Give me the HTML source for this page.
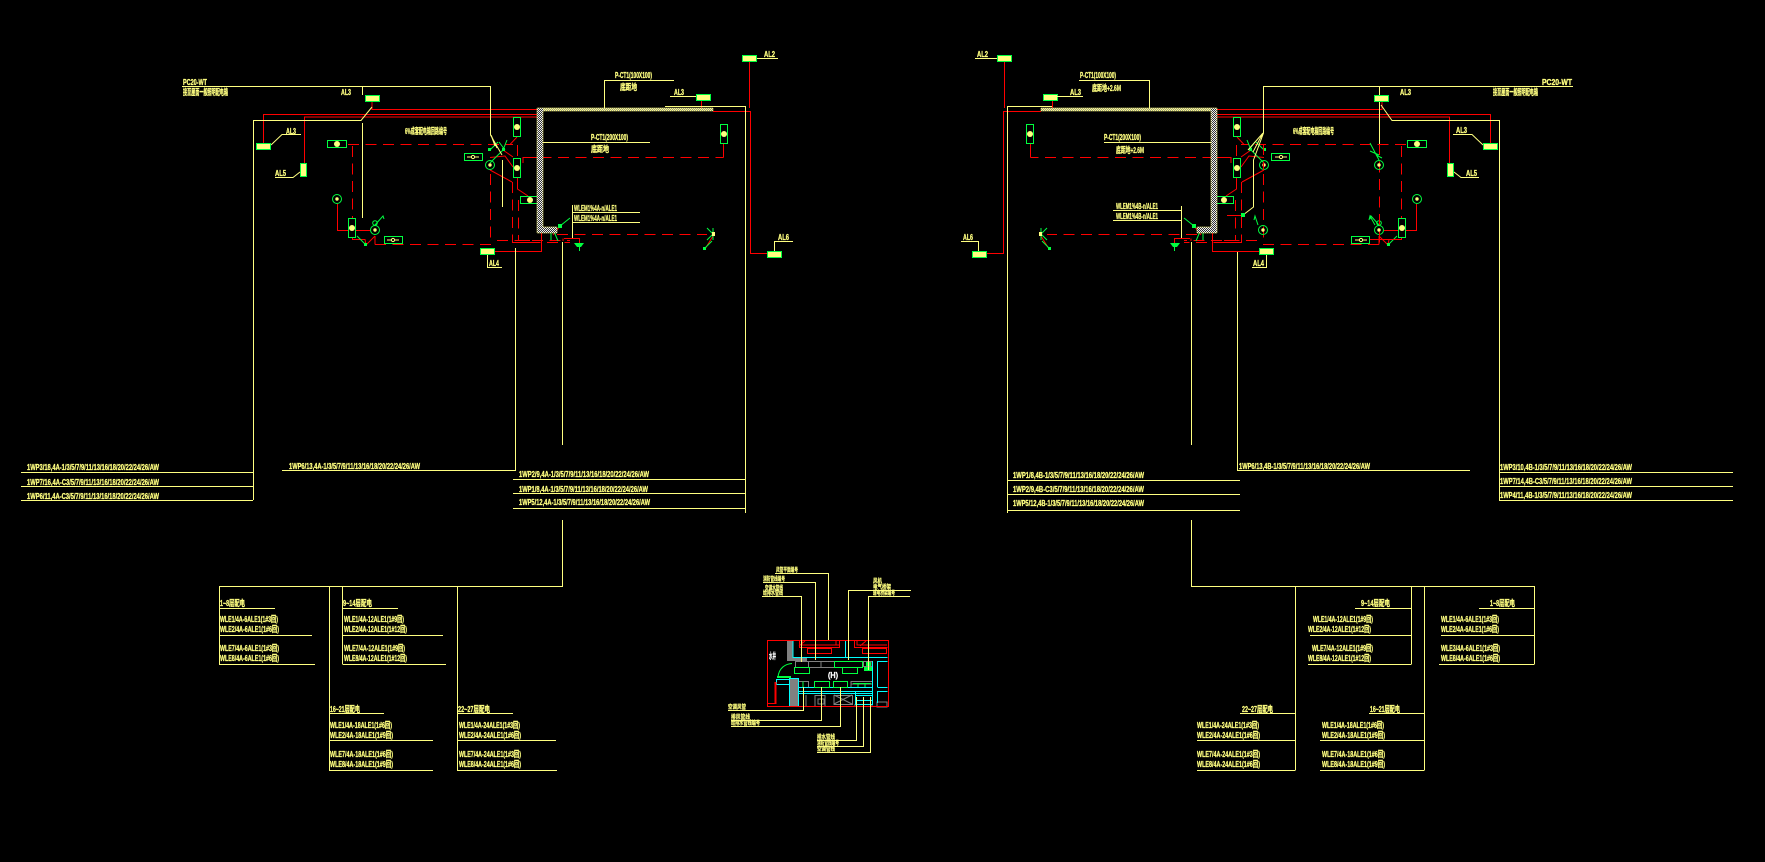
<!DOCTYPE html>
<html><head><meta charset="utf-8"><style>
html,body{margin:0;padding:0;background:#000;overflow:hidden}
svg{display:block}
text{font-family:"Liberation Sans","Noto Sans CJK SC",sans-serif;font-size:8.5px;font-weight:700;fill:#ffff80;stroke:#ffff80;stroke-width:.3px}
text.s{font-size:6px;stroke-width:.2px}
.y{stroke:#ffff80;fill:none}
.r{stroke:#f00;fill:none}
.d{stroke:#f00;fill:none;stroke-dasharray:11 6.5}
.g{stroke:#00ff40;fill:none}
.c{stroke:#0ff;fill:none}
.a{stroke:#808080;fill:none}
</style></head><body>
<svg xmlns="http://www.w3.org/2000/svg" width="1765" height="862" viewBox="0 0 1765 862">
<defs>
<pattern id="chk" width="2" height="2" patternUnits="userSpaceOnUse"><rect width="2" height="2" fill="#333"/><rect width="1" height="1" fill="#eee"/><rect x="1" y="1" width="1" height="1" fill="#eee"/></pattern>
<pattern id="chy" width="2" height="2" patternUnits="userSpaceOnUse"><rect width="2" height="2" fill="#998"/><rect width="1" height="1" fill="#ffff80"/><rect x="1" y="1" width="1" height="1" fill="#ffff80"/></pattern>
<g id="fv"><rect x=".5" y=".5" width="7" height="19" fill="#000" stroke="#00ff40"/><circle cx="4" cy="10" r="3" fill="#ffff80"/></g>
<g id="fh"><rect x=".5" y=".5" width="19" height="7" fill="#000" stroke="#00ff40"/><circle cx="10" cy="4" r="3" fill="#ffff80"/></g>
<rect id="bx" x=".5" y=".5" width="14" height="6" fill="#ffff80" stroke="#00ff40"/>
<g id="ci"><circle r="4.5" fill="none" stroke="#00ff40"/><circle r="1.7" fill="#ffff80"/></g>
<g id="sw"><rect x=".5" y=".5" width="18" height="7" fill="#000" stroke="#00ff40"/><path d="M3 4H15" stroke="#ffff80"/><circle cx="9" cy="4" r="1.6" fill="#000" stroke="#ffff80"/></g>
<g id="plan">
<!-- red feeders -->
<path class="r" d="M372 102V109.500H537M263.500 143V114.500H537M304.500 163V117H537M749.500 62V108M713 111.500H750.500V253.500H767M701.500 101V108M495 251.500H541.500V233"/>
<!-- dashed -->
<path class="d" d="M348 144.500H513M352.500 146V218M375 244.500H490.500V170M523 157.500H723.500M557 234.500H707M512.500 182V242M518.500 200V240M517.500 145V158M497 240.500H570"/>
<path class="d" d="M512 242.500H570" />
<path class="r" d="M723.500 143V157.500M337.500 204V230.500H348M356 230.500H370M352.500 238V239.500H365L366 245M375 236V244.500M375 236L366 245M490 170L512 182M517.500 177V189L528 196M490 157.500L505 156L513 167M503 150L513 157M505 144.500H510L517 137M523 163V157.500H537M564 238.500H579.500V243M563 238.500V241M553 235L560 226M705 249L713 236M512.500 242.500H537M518 240.500H530"/>
<!-- green -->
<path class="g" d="M490 150L498 142M503 150L507 140M490 163L503 150M357 236L366 245M375 225L383 216L384 219M560 226L570 218M553 229L558 241M551 229V240M713 228V240M707 228L713 234M707 240L713 234M704 249L712 241M505 150L499 142"/>
<circle cx="375" cy="223" r="2.3" class="g"/>
<rect x="364" y="243" width="3" height="3" fill="#00ff40"/><rect x="488" y="148" width="3" height="3" fill="#00ff40"/><rect x="502" y="148" width="3" height="3" fill="#00ff40"/>
<rect x="558" y="224" width="4" height="4" fill="#00ff40"/><rect x="703" y="247" width="3" height="3" fill="#00ff40"/><rect x="712" y="232" width="3" height="4" fill="#ffff80"/>
<path d="M574 243H584L581 247H577Z" fill="#00ff40"/><path class="g" d="M579.500 247V251"/>
<!-- fixtures -->
<use href="#fv" x="513" y="117"/><use href="#fv" x="513" y="158"/><use href="#fv" x="720" y="124"/><use href="#fv" x="348" y="218"/>
<use href="#fh" x="327" y="140"/><use href="#fh" x="520" y="196"/>
<use href="#ci" x="490" y="165"/><use href="#ci" x="375" y="230"/><use href="#ci" x="337" y="199"/>
<use href="#sw" x="384" y="236"/><use href="#sw" x="464" y="153"/>
<!-- boxes -->
<use href="#bx" x="742" y="55"/><use href="#bx" x="696" y="94"/><use href="#bx" x="365" y="95"/><use href="#bx" x="256" y="143"/>
<use href="#bx" x="480" y="248"/><use href="#bx" x="767" y="251"/>
<rect x="300.500" y="163.500" width="6" height="13" fill="#ffff80" stroke="#00ff40"/>
<!-- wall -->
<path d="M537 108H713V111H543V227H557V233H537Z" fill="url(#chk)" stroke="#ffff80" stroke-width=".5"/>
<rect x="543" y="108" width="170" height="3" fill="url(#chy)"/>
</g>
</defs>
<rect width="1765" height="862" fill="#000"/>

<use href="#plan"/>
<use href="#plan" transform="translate(1754 0) scale(-1 1)"/>

<!-- LEFT yellow -->
<path class="y" d="M182 86.500H490.500V135L502 155M491 135L495 146M491 135L497 148M502.500 160V207M362.500 86V95M362.500 123V218M253.500 500V120.500H361L372 107M757 58.500H778M665 106.500H745.500V513M670 96.500H696M604.500 108V80.500H674M543 142.500H650M572.500 205V238M572 212.500H640M572 222.500H640M774.500 251V241.500H793M487.500 255V267.500H502M271 145L282 134.500H301M300 172L293 177.500H275M515.500 248V470.500H282M21 472.500H253M21 486.500H253M21 500.500H253M513 479.500H745M513 493.500H745M513 508.500H745M562.500 242V445M562.500 520V586.500H219.500V664.500M329.500 586V770.500M342.500 586V664.500M457.500 586V770.500"/>
<path class="y" d="M219 608.500H275M219 635.500H312M219 664.500H315M343 608.500H398M343 635.500H443M343 664.500H446M329 713.500H384M329 740.500H433M329 770.500H433M457 713.500H513M457 740.500H556M457 770.500H557"/>

<text x="183" y="85" textLength="24" lengthAdjust="spacingAndGlyphs">PC20-WT</text>
<text x="183" y="95" textLength="45" lengthAdjust="spacingAndGlyphs">接至屋面一般照明配电箱</text>
<text x="341" y="95" textLength="10" lengthAdjust="spacingAndGlyphs">AL3</text>
<text x="286" y="134" textLength="10" lengthAdjust="spacingAndGlyphs">AL3</text>
<text x="275" y="176" textLength="11" lengthAdjust="spacingAndGlyphs">AL5</text>
<text x="489" y="266" textLength="10" lengthAdjust="spacingAndGlyphs">AL4</text>
<text x="764" y="57" textLength="11" lengthAdjust="spacingAndGlyphs">AL2</text>
<text x="674" y="95" textLength="10" lengthAdjust="spacingAndGlyphs">AL3</text>
<text x="778" y="240" textLength="11" lengthAdjust="spacingAndGlyphs">AL6</text>
<text x="405" y="134" textLength="42" lengthAdjust="spacingAndGlyphs">6%成套配电箱回路编号</text>
<text x="615" y="78" textLength="37" lengthAdjust="spacingAndGlyphs">P-CT1(100X100)</text>
<text x="620" y="90" textLength="17" lengthAdjust="spacingAndGlyphs">底距地</text>
<text x="591" y="140" textLength="37" lengthAdjust="spacingAndGlyphs">P-CT1(200X100)</text>
<text x="591" y="152" textLength="18" lengthAdjust="spacingAndGlyphs">底距地</text>
<text x="574" y="211" textLength="43" lengthAdjust="spacingAndGlyphs">WLEM1%4A-n/ALE1</text>
<text x="574" y="221" textLength="43" lengthAdjust="spacingAndGlyphs">WLEM1%4A-n/ALE1</text>
<text x="27" y="470" textLength="132" lengthAdjust="spacingAndGlyphs">1WP3/18,4A-1/3/5/7/9/11/13/16/18/20/22/24/26/AW</text>
<text x="27" y="485" textLength="132" lengthAdjust="spacingAndGlyphs">1WP7/16,4A-C3/5/7/9/11/13/16/18/20/22/24/26/AW</text>
<text x="27" y="499" textLength="132" lengthAdjust="spacingAndGlyphs">1WP6/11,4A-C3/5/7/9/11/13/16/18/20/22/24/26/AW</text>
<text x="289" y="469" textLength="131" lengthAdjust="spacingAndGlyphs">1WP6/13,4A-1/3/5/7/9/11/13/16/18/20/22/24/26/AW</text>
<text x="519" y="477" textLength="130" lengthAdjust="spacingAndGlyphs">1WP2/9,4A-1/3/5/7/9/11/13/16/18/20/22/24/26/AW</text>
<text x="519" y="492" textLength="129" lengthAdjust="spacingAndGlyphs">1WP1/8,4A-1/3/5/7/9/11/13/16/18/20/22/24/26/AW</text>
<text x="519" y="505" textLength="131" lengthAdjust="spacingAndGlyphs">1WP5/12,4A-1/3/5/7/9/11/13/16/18/20/22/24/26/AW</text>

<text x="220" y="606" textLength="25" lengthAdjust="spacingAndGlyphs">1~8层配电</text>
<text x="220" y="622" textLength="58" lengthAdjust="spacingAndGlyphs">WLE1/4A-6ALE1(1#3回)</text>
<text x="220" y="632" textLength="59" lengthAdjust="spacingAndGlyphs">WLE2/4A-6ALE1(1#6回)</text>
<text x="220" y="651" textLength="59" lengthAdjust="spacingAndGlyphs">WLE7/4A-6ALE1(1#3回)</text>
<text x="220" y="661" textLength="59" lengthAdjust="spacingAndGlyphs">WLE8/4A-6ALE1(1#6回)</text>
<text x="343" y="606" textLength="29" lengthAdjust="spacingAndGlyphs">9~14层配电</text>
<text x="344" y="622" textLength="60" lengthAdjust="spacingAndGlyphs">WLE1/4A-12ALE1(1#9回)</text>
<text x="344" y="632" textLength="63" lengthAdjust="spacingAndGlyphs">WLE2/4A-12ALE1(1#12回)</text>
<text x="344" y="651" textLength="61" lengthAdjust="spacingAndGlyphs">WLE7/4A-12ALE1(1#9回)</text>
<text x="344" y="661" textLength="63" lengthAdjust="spacingAndGlyphs">WLE8/4A-12ALE1(1#12回)</text>
<text x="330" y="712" textLength="30" lengthAdjust="spacingAndGlyphs">16~21层配电</text>
<text x="330" y="728" textLength="62" lengthAdjust="spacingAndGlyphs">WLE1/4A-18ALE1(1#6回)</text>
<text x="330" y="738" textLength="63" lengthAdjust="spacingAndGlyphs">WLE2/4A-18ALE1(1#9回)</text>
<text x="330" y="757" textLength="63" lengthAdjust="spacingAndGlyphs">WLE7/4A-18ALE1(1#6回)</text>
<text x="330" y="767" textLength="63" lengthAdjust="spacingAndGlyphs">WLE8/4A-18ALE1(1#9回)</text>
<text x="458" y="712" textLength="32" lengthAdjust="spacingAndGlyphs">22~27层配电</text>
<text x="459" y="728" textLength="61" lengthAdjust="spacingAndGlyphs">WLE1/4A-24ALE1(1#3回)</text>
<text x="459" y="738" textLength="62" lengthAdjust="spacingAndGlyphs">WLE2/4A-24ALE1(1#6回)</text>
<text x="459" y="757" textLength="62" lengthAdjust="spacingAndGlyphs">WLE7/4A-24ALE1(1#3回)</text>
<text x="459" y="767" textLength="62" lengthAdjust="spacingAndGlyphs">WLE8/4A-24ALE1(1#6回)</text>

<!-- RIGHT yellow -->
<path class="y" d="M1573 86.500H1263.500V133L1253.500 160V207L1243 215M1263 133L1248 150M1263 133L1253 152M1379.500 86V95M1379.500 102V147M1381 105L1392 120.500H1499.500V500M975 58.500H997M1007.500 513V106.500H1052M1057 96.500H1083M1149.500 108V80.500H1079M1104 142.500H1211M1181.500 206V238M1113 210.500H1181M1113 220.500H1181M978.500 251V241.500H961M1266.500 255V267.500H1252M1483 145L1472 134.500H1453M1454 172L1461 177.500H1479M1237.500 252V470.500H1470M1499 472.500H1733M1499 486.500H1733M1499 500.500H1733M1008 480.500H1240M1008 494.500H1240M1008 510.500H1240M1191.500 242V445M1191.500 520V586.500H1534.500V664.500M1295.500 586V770.500M1411.500 586V664.500M1424.500 586V770.500"/>
<path class="y" d="M1479 608.500H1534M1441 635.500H1534M1439 664.500H1534M1355 608.500H1411M1310 635.500H1411M1308 664.500H1411M1240 713.500H1295M1197 740.500H1295M1197 770.500H1295M1369 713.500H1424M1320 740.500H1424M1320 770.500H1424"/>
<!-- right-only extras -->
<path class="d" d="M1379.500 144V244M1263.500 144V170"/>
<path class="r" d="M1227 215.500H1243M1370 239.500H1397"/>
<rect x="1241" y="213" width="4" height="4" fill="#00ff40"/>
<use href="#ci" x="1379" y="165"/><use href="#ci" x="1263" y="230"/>
<path class="g" d="M1379 160L1370 143M1379 155L1370 151M1375 225L1370 216L1369 220M1258 225L1255 216L1254 220M1376 155L1382 158"/>
<text x="1542" y="85" textLength="30" lengthAdjust="spacingAndGlyphs">PC20-WT</text>
<text x="1493" y="95" textLength="45" lengthAdjust="spacingAndGlyphs">接至屋面一般照明配电箱</text>
<text x="1400" y="95" textLength="11" lengthAdjust="spacingAndGlyphs">AL3</text>
<text x="1456" y="133" textLength="11" lengthAdjust="spacingAndGlyphs">AL3</text>
<text x="1466" y="176" textLength="11" lengthAdjust="spacingAndGlyphs">AL5</text>
<text x="1253" y="266" textLength="11" lengthAdjust="spacingAndGlyphs">AL4</text>
<text x="977" y="57" textLength="11" lengthAdjust="spacingAndGlyphs">AL2</text>
<text x="1070" y="95" textLength="11" lengthAdjust="spacingAndGlyphs">AL3</text>
<text x="963" y="240" textLength="10" lengthAdjust="spacingAndGlyphs">AL6</text>
<text x="1293" y="134" textLength="41" lengthAdjust="spacingAndGlyphs">6%成套配电箱回路编号</text>
<text x="1080" y="78" textLength="36" lengthAdjust="spacingAndGlyphs">P-CT1(100X100)</text>
<text x="1092" y="91" textLength="29" lengthAdjust="spacingAndGlyphs">底距地+2.6M</text>
<text x="1104" y="140" textLength="37" lengthAdjust="spacingAndGlyphs">P-CT1(200X100)</text>
<text x="1116" y="153" textLength="28" lengthAdjust="spacingAndGlyphs">底距地+2.6M</text>
<text x="1116" y="209" textLength="42" lengthAdjust="spacingAndGlyphs">WLEM1%4B-n/ALE1</text>
<text x="1116" y="219" textLength="42" lengthAdjust="spacingAndGlyphs">WLEM1%4B-n/ALE1</text>
<text x="1013" y="478" textLength="131" lengthAdjust="spacingAndGlyphs">1WP1/8,4B-1/3/5/7/9/11/13/16/18/20/22/24/26/AW</text>
<text x="1013" y="492" textLength="131" lengthAdjust="spacingAndGlyphs">1WP2/9,4B-C3/5/7/9/11/13/16/18/20/22/24/26/AW</text>
<text x="1013" y="506" textLength="131" lengthAdjust="spacingAndGlyphs">1WP5/12,4B-1/3/5/7/9/11/13/16/18/20/22/24/26/AW</text>
<text x="1239" y="469" textLength="131" lengthAdjust="spacingAndGlyphs">1WP6/13,4B-1/3/5/7/9/11/13/16/18/20/22/24/26/AW</text>
<text x="1500" y="470" textLength="132" lengthAdjust="spacingAndGlyphs">1WP3/10,4B-1/3/5/7/9/11/13/16/18/20/22/24/26/AW</text>
<text x="1500" y="484" textLength="132" lengthAdjust="spacingAndGlyphs">1WP7/14,4B-C3/5/7/9/11/13/16/18/20/22/24/26/AW</text>
<text x="1500" y="498" textLength="132" lengthAdjust="spacingAndGlyphs">1WP4/11,4B-1/3/5/7/9/11/13/16/18/20/22/24/26/AW</text>

<text x="1490" y="606" textLength="25" lengthAdjust="spacingAndGlyphs">1~8层配电</text>
<text x="1441" y="622" textLength="58" lengthAdjust="spacingAndGlyphs">WLE1/4A-6ALE1(1#3回)</text>
<text x="1441" y="632" textLength="58" lengthAdjust="spacingAndGlyphs">WLE2/4A-6ALE1(1#6回)</text>
<text x="1441" y="651" textLength="59" lengthAdjust="spacingAndGlyphs">WLE3/4A-6ALE1(1#3回)</text>
<text x="1441" y="661" textLength="59" lengthAdjust="spacingAndGlyphs">WLE8/4A-6ALE1(1#6回)</text>
<text x="1361" y="606" textLength="29" lengthAdjust="spacingAndGlyphs">9~14层配电</text>
<text x="1313" y="622" textLength="60" lengthAdjust="spacingAndGlyphs">WLE1/4A-12ALE1(1#9回)</text>
<text x="1308" y="632" textLength="63" lengthAdjust="spacingAndGlyphs">WLE2/4A-12ALE1(1#12回)</text>
<text x="1312" y="651" textLength="61" lengthAdjust="spacingAndGlyphs">WLE7/4A-12ALE1(1#9回)</text>
<text x="1308" y="661" textLength="63" lengthAdjust="spacingAndGlyphs">WLE8/4A-12ALE1(1#12回)</text>
<text x="1242" y="712" textLength="31" lengthAdjust="spacingAndGlyphs">22~27层配电</text>
<text x="1197" y="728" textLength="62" lengthAdjust="spacingAndGlyphs">WLE1/4A-24ALE1(1#3回)</text>
<text x="1197" y="738" textLength="63" lengthAdjust="spacingAndGlyphs">WLE2/4A-24ALE1(1#6回)</text>
<text x="1197" y="757" textLength="63" lengthAdjust="spacingAndGlyphs">WLE7/4A-24ALE1(1#3回)</text>
<text x="1197" y="767" textLength="63" lengthAdjust="spacingAndGlyphs">WLE8/4A-24ALE1(1#6回)</text>
<text x="1370" y="712" textLength="30" lengthAdjust="spacingAndGlyphs">16~21层配电</text>
<text x="1322" y="728" textLength="62" lengthAdjust="spacingAndGlyphs">WLE1/4A-18ALE1(1#6回)</text>
<text x="1322" y="738" textLength="63" lengthAdjust="spacingAndGlyphs">WLE2/4A-18ALE1(1#9回)</text>
<text x="1322" y="757" textLength="63" lengthAdjust="spacingAndGlyphs">WLE7/4A-18ALE1(1#6回)</text>
<text x="1322" y="767" textLength="63" lengthAdjust="spacingAndGlyphs">WLE8/4A-18ALE1(1#9回)</text>

<!-- CENTER DETAIL -->
<rect x="787" y="641" width="6" height="20" fill="#808080"/><rect x="793" y="657" width="14" height="4" fill="#808080"/>
<rect x="789" y="678" width="9" height="28" fill="#808080"/>
<path class="a" d="M795.500 661.500H834.500V667.500H795.500ZM808.500 661V667M821 661V667M863.500 661.500H872V666.500H863.500ZM798.500 681.500H808.500V687M851 681.500H872M851 684H872M851 681V687M815 695.500H825M815 695V706M825 695V706M834 695.500H852.500V704.500H834ZM834 695L852 704M852 695L834 704M855 704.500H872V706.500H855ZM877 702H887V707H877ZM806 695V706M818 699H824V704H818Z"/>
<path class="c" d="M793 641V657.500H887.500M845.500 641V657M848.500 641V657M877.500 661.500H887.500M877.500 661V687M877.500 687.500H887.500M877.500 691.500H887.500M877.500 691V703M872.500 661V705M798 687.500H872M798 691.500H872M798 693.500H872M789.500 678.500H798.500V706M789.500 678V706M776 679.500H789M776 684.500H789M776.500 679V684M855.500 691V704M855 695.500H872M855 700.500H872M855 704.500H872"/>
<path class="g" d="M794.500 667.500H809.500V673.500H794.500ZM834.500 661.500H862.500V667.500H834.500ZM842.500 667.500H857.500V673.500H842.500ZM814.500 681.500H829.500V687.500H814.500ZM833.500 681.500H847.500V687.500H833.500ZM778 677C779 668 785 664 792 663.500M803 681.500V687M853 683.500H871M858 684V687M865 684V687"/>
<rect x="777" y="676" width="14" height="2" fill="#00ff40"/><rect x="864" y="667" width="8" height="4" fill="#00ff40"/><rect x="866" y="662" width="5" height="4" fill="#00ff40"/>
<path class="r" d="M767.500 640.500H888.500V706.500H767.500ZM799.500 641V647.500H839.500V641M802 641V645H839M836 641V645M807.500 648.500H831.500V653.500H807.500ZM854.500 641V647.500H887.500M857 641V645H887M862.500 648.500H886.500V653.500H862.500ZM768 703.500H776M799 646L805 641M860 646L866 641"/>
<path d="M775.500 682V704" stroke="#f00" stroke-width="2"/>
<path class="y" d="M775 573.500H828.500V640M763 582.500H815.500V660M762 596.500H801.500V662M848.500 660V590.500H911M868.500 670V596.500H910M728 710.500H803.500V687M731 720.500H821.500V687M731 726.500H840.500V687M817 740.500H856.500V697M817 746.500H863.500V697M817 752.500H870.500V697"/>
<text class="s" x="776" y="572" textLength="22" lengthAdjust="spacingAndGlyphs">风管平面编号</text>
<text class="s" x="763" y="581" textLength="22" lengthAdjust="spacingAndGlyphs">消防管线编号</text>
<text class="s" x="765" y="590" textLength="18" lengthAdjust="spacingAndGlyphs">空调水管线</text>
<text class="s" x="763" y="595" textLength="20" lengthAdjust="spacingAndGlyphs">给排水管线</text>
<text class="s" x="873" y="583" textLength="9" lengthAdjust="spacingAndGlyphs">风机</text>
<text class="s" x="873" y="589" textLength="18" lengthAdjust="spacingAndGlyphs">电气桥架</text>
<text class="s" x="873" y="595" textLength="22" lengthAdjust="spacingAndGlyphs">弱电桥架编号</text>
<text class="s" x="728" y="709" textLength="18" lengthAdjust="spacingAndGlyphs">空调风管</text>
<text class="s" x="731" y="719" textLength="19" lengthAdjust="spacingAndGlyphs">排风管线</text>
<text class="s" x="731" y="725" textLength="29" lengthAdjust="spacingAndGlyphs">给排水管线编号</text>
<text class="s" x="817" y="739" textLength="18" lengthAdjust="spacingAndGlyphs">排水管线</text>
<text class="s" x="817" y="745" textLength="22" lengthAdjust="spacingAndGlyphs">消防管线编号</text>
<text class="s" x="817" y="751" textLength="18" lengthAdjust="spacingAndGlyphs">空调管线</text>
<text x="769" y="659" textLength="7" lengthAdjust="spacingAndGlyphs" style="fill:#fff;stroke:#fff">水井</text>
<text x="828" y="678" textLength="10" lengthAdjust="spacingAndGlyphs" style="fill:#fff;stroke:#fff">(H)</text>
</svg>
</body></html>
